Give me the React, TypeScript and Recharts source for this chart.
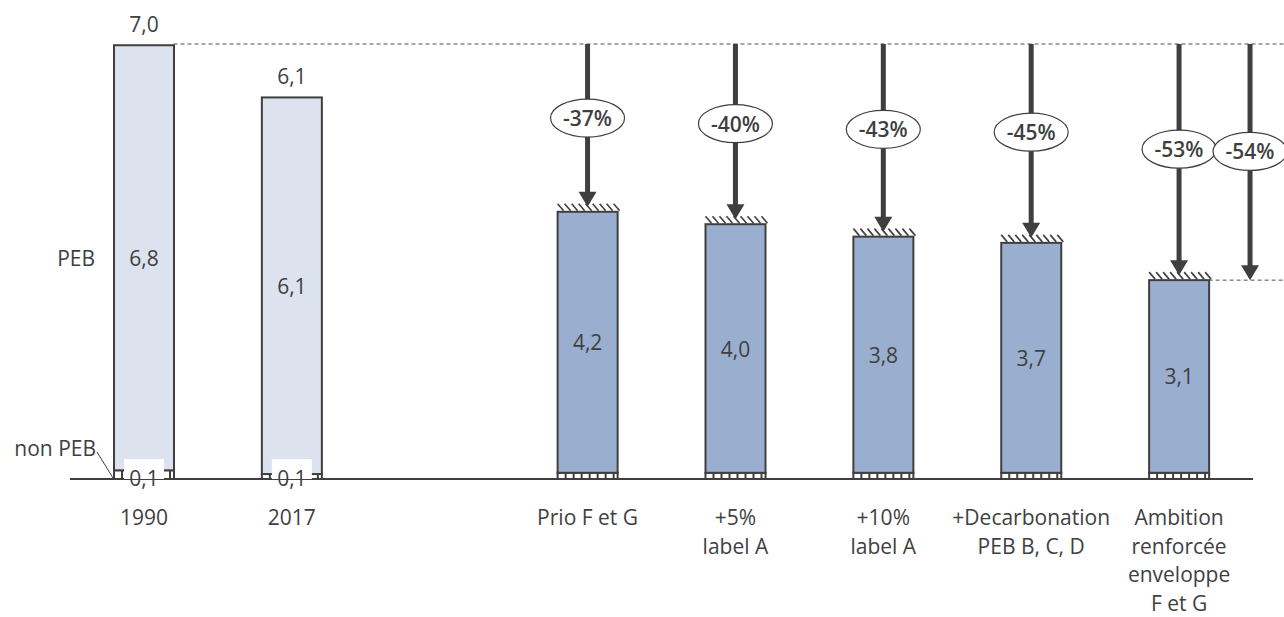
import React from "react";
import { BarChart, Bar, XAxis, YAxis, LabelList, ReferenceLine } from "recharts";

// one slot per category; slot 2 is an empty gap on the axis
const categoryLines: string[][] = [
  ["1990"],
  ["2017"],
  [],
  ["Prio F et G"],
  ["+5%", "label A"],
  ["+10%", "label A"],
  ["+Decarbonation", "PEB B, C, D"],
  ["Ambition", "renforcée", "enveloppe", "F et G"],
];
const pebValues: (number | null)[] = [6.84, 6.06, null, 4.2, 4.0, 3.8, 3.7, 3.1];
const nonPebValues: (number | null)[] = [0.14, 0.08, null, 0.1, 0.1, 0.1, 0.1, 0.1];
const isScenario: boolean[] = [false, false, false, true, true, true, true, true];
const reductions: (string | null)[] = [null, null, null, "-37%", "-40%", "-43%", "-45%", "-53%"];
const referenceLevel = 7.0;
const extraReduction = "-54%";
const extraTarget = 3.2;

const INK = "#3f3f3f";
const LIGHT = "#dce3ee";
const BLUE = "#9aafcf";
const FONT = "'Open Sans', 'DejaVu Sans', sans-serif";
const FS = 21;

const rows = categoryLines
  .map((_, i) => ({
    x: i,
    peb: pebValues[i],
    nonPeb: nonPebValues[i],
    scenario: isScenario[i],
  }))
  .filter((r) => r.peb != null);

const fmt = (v: number) => v.toFixed(1).replace(".", ",");

const PebShape = (p: any) => {
  const { x, y, width, height, payload } = p;
  const hatch: React.ReactNode[] = [];
  if (payload.scenario) {
    for (let i = 0; i <= width; i += 7) {
      hatch.push(
        <line key={i} x1={x + i} y1={y - 8} x2={x + i + 6} y2={y - 1} stroke={INK} strokeWidth={1.6} />
      );
    }
  }
  return (
    <g>
      <rect x={x} y={y} width={width} height={height} fill={payload.scenario ? BLUE : LIGHT} stroke={INK} strokeWidth={2} />
      {hatch}
    </g>
  );
};

const NonPebShape = (p: any) => {
  const { x, y, width, height } = p;
  const ticks: React.ReactNode[] = [];
  for (let i = 8; i < width; i += 8) {
    ticks.push(<line key={i} x1={x + i} y1={y} x2={x + i} y2={y + height} stroke={INK} strokeWidth={2} />);
  }
  return (
    <g>
      <rect x={x} y={y} width={width} height={height} fill="#fff" stroke={INK} strokeWidth={2} />
      {ticks}
    </g>
  );
};

const TotalLabel = (p: any) => {
  const { x, y, width, index } = p;
  const r = rows[index];
  if (!r || r.scenario) return null;
  return (
    <text x={x + width / 2} y={y - 21} textAnchor="middle" dominantBaseline="central" fontSize={FS} fill={INK}>
      {fmt((r.peb as number) + (r.nonPeb as number))}
    </text>
  );
};

const PebValueLabel = (p: any) => {
  const { x, y, width, height, value, index } = p;
  return (
    <g>
      <text x={x + width / 2} y={y + height / 2} textAnchor="middle" dominantBaseline="central" fontSize={FS} fill={INK}>
        {fmt(value)}
      </text>
      {index === 0 && (
        <text x={x - 19} y={y + height / 2} textAnchor="end" dominantBaseline="central" fontSize={FS} fill={INK}>
          PEB
        </text>
      )}
    </g>
  );
};

const NonPebLabel = (p: any) => {
  const { x, y, width, height, value, index } = p;
  const r = rows[index];
  if (!r || r.scenario) return null;
  const cx = x + width / 2;
  const base = y + height;
  return (
    <g>
      <rect x={cx - 20} y={base - 20} width={40} height={20} fill="#fff" />
      <text x={cx} y={base - 1} textAnchor="middle" dominantBaseline="central" fontSize={FS} fill={INK}>
        {fmt(value)}
      </text>
      {index === 0 && (
        <g>
          <text x={x - 18} y={base - 31} textAnchor="end" dominantBaseline="central" fontSize={FS} fill={INK}>
            non PEB
          </text>
          <line x1={x - 17} y1={base - 27} x2={x - 1} y2={base - 1} stroke={INK} strokeWidth={1} />
        </g>
      )}
    </g>
  );
};

const CategoryTick = (p: any) => {
  const { x, y, payload } = p;
  const lines = categoryLines[payload.value] || [];
  return (
    <text x={x} y={y} textAnchor="middle" fontSize={FS} fill={INK}>
      {lines.map((l, i) => (
        <tspan key={i} x={x} dy={i === 0 ? 38 : 28.5}>
          {l}
        </tspan>
      ))}
    </text>
  );
};

const arrowShape = (label: string, tipGap: number) => (p: any) => {
  const { x1, y1, y2 } = p;
  const tip = y2 - tipGap;
  const headH = 15;
  const headW = 9;
  const cy = y1 + 0.455 * (tip - y1);
  return (
    <g>
      <line x1={x1} y1={y1} x2={x1} y2={tip - headH + 1} stroke={INK} strokeWidth={5} />
      <polygon points={`${x1 - headW},${tip - headH} ${x1 + headW},${tip - headH} ${x1},${tip}`} fill={INK} />
      <ellipse cx={x1} cy={cy} rx={37} ry={19} fill="#fff" stroke={INK} strokeWidth={1.2} />
      <text x={x1} y={cy} textAnchor="middle" dominantBaseline="central" fontSize={FS} fontWeight={600} fill={INK}>
        {label}
      </text>
    </g>
  );
};

export default function App() {
  const scenarioRows = rows.filter((r) => r.scenario);
  const lastRow = rows[rows.length - 1];
  return (
    <div style={{ position: "absolute", left: 0, top: 0, width: 1284, height: 617, background: "#fff", fontFamily: FONT }}>
      <BarChart width={1284} height={617} data={rows} margin={{ top: 44, right: 31, left: 70, bottom: 8 }} barSize={60}>
        <XAxis
          type="number"
          dataKey="x"
          domain={[-0.5, 7.5]}
          ticks={[0, 1, 3, 4, 5, 6, 7]}
          tick={<CategoryTick />}
          tickLine={false}
          axisLine={{ stroke: INK, strokeWidth: 2 }}
          height={130}
          interval={0}
        />
        <YAxis hide type="number" domain={[0, referenceLevel]} />
        <Bar dataKey="nonPeb" stackId="a" isAnimationActive={false} shape={<NonPebShape />}>
          <LabelList dataKey="nonPeb" content={<NonPebLabel />} />
        </Bar>
        <Bar dataKey="peb" stackId="a" isAnimationActive={false} shape={<PebShape />}>
          <LabelList dataKey="peb" content={<PebValueLabel />} />
          <LabelList dataKey="peb" content={<TotalLabel />} />
        </Bar>
        <ReferenceLine
          segment={[
            { x: 0.2, y: referenceLevel },
            { x: 7.71, y: referenceLevel },
          ]}
          stroke="#505050"
          strokeWidth={1}
          strokeDasharray="4 3"
          ifOverflow="visible"
        />
        <ReferenceLine
          segment={[
            { x: lastRow.x + 0.2, y: extraTarget },
            { x: 7.71, y: extraTarget },
          ]}
          stroke="#505050"
          strokeWidth={1}
          strokeDasharray="4 3"
          ifOverflow="visible"
        />
        {scenarioRows.map((r) => (
          <ReferenceLine
            key={r.x}
            segment={[
              { x: r.x, y: referenceLevel },
              { x: r.x, y: (r.peb as number) + (r.nonPeb as number) },
            ]}
            ifOverflow="visible"
            shape={arrowShape(reductions[r.x] as string, 5)}
          />
        ))}
        <ReferenceLine
          segment={[
            { x: 7.48, y: referenceLevel },
            { x: 7.48, y: extraTarget },
          ]}
          ifOverflow="visible"
          shape={arrowShape(extraReduction, 0)}
        />
      </BarChart>
    </div>
  );
}
